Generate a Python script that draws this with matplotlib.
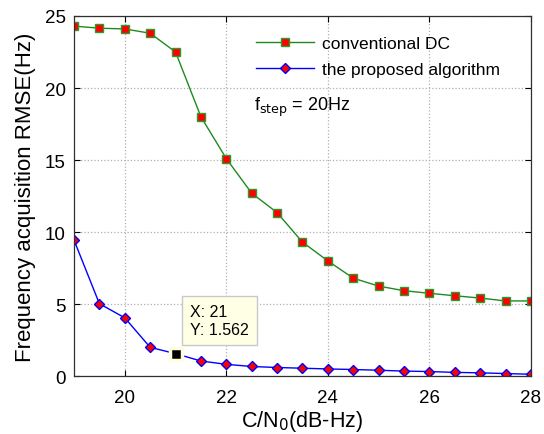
import numpy as np
import matplotlib
matplotlib.use('Agg')
from matplotlib import pyplot as plt

plt.rcParams['font.family'] = ['Liberation Sans', 'DejaVu Sans']

# C/N0 grid (dB-Hz)
cn0 = [19, 19.5, 20, 20.5, 21, 21.5, 22, 22.5, 23, 23.5,
       24, 24.5, 25, 25.5, 26, 26.5, 27, 27.5, 28]

# RMSE do DC convencional
rmse_dc = [24.3, 24.15, 24.1, 23.8, 22.5, 18.0, 15.1, 12.7, 11.35, 9.3,
           8.0, 6.8, 6.25, 5.93, 5.75, 5.58, 5.42, 5.22, 5.22]

# RMSE do algoritmo proposto
rmse_prop = [9.45, 5.03, 4.05, 2.0, 1.562, 1.05, 0.82, 0.67, 0.6, 0.55,
             0.5, 0.46, 0.41, 0.35, 0.32, 0.26, 0.23, 0.18, 0.13]

# ponto marcado com datatip
tip_x = 21
tip_y = 1.562

fig = plt.figure(figsize=(5.44, 4.35), dpi=100)
ax = fig.add_axes([0.136, 0.133, 0.840, 0.828])

ax.plot(cn0, rmse_dc, color='#1f8a1f', lw=1.0, marker='s', ms=5.5,
        mfc='red', mec='#2e9a2e', mew=1.0, label='conventional DC')
ax.plot(cn0, rmse_prop, color='blue', lw=1.0, marker='D', ms=5,
        mfc='red', mec='blue', mew=1.0, label='the proposed algorithm')

# datatip
ax.plot([tip_x], [tip_y], marker='s', ms=9, mfc='black', mec='#fffde0',
        mew=2.5, ls='none', zorder=5)
ax.annotate(f'X: {tip_x}\nY: {tip_y}', xy=(tip_x, tip_y), xytext=(21.29, 3.85),
            fontsize=11.5, va='center', ha='left', linespacing=1.3,
            bbox=dict(boxstyle='square,pad=0.5', fc='#ffffe6', ec='#c8c8c8', lw=1))

ax.text(0.395, 0.75, r'f$_{\rm step}$ = 20Hz', transform=ax.transAxes,
        fontsize=13, ha='left', va='center')

ax.set_xlim(19, 28)
ax.set_ylim(0, 25)
ax.set_xticks([20, 22, 24, 26, 28])
ax.set_yticks([0, 5, 10, 15, 20, 25])
ax.grid(True, ls=':', color='#b0b0b0', lw=0.9)
ax.tick_params(direction='in', top=True, right=True, labelsize=13.5, length=4)
ax.tick_params(axis='x', pad=9)
ax.tick_params(axis='y', pad=6)
for s in ax.spines.values():
    s.set_linewidth(0.9)
    s.set_color('#303030')

ax.set_xlabel('C/N$_0$(dB-Hz)', fontsize=15.5, labelpad=2)
ax.set_ylabel('Frequency acquisition RMSE(Hz)', fontsize=16, labelpad=6)

ax.legend(loc='upper right', frameon=False, fontsize=12.5, handlelength=3.3,
          borderaxespad=0.75, handletextpad=0.5, labelspacing=0.6,
          bbox_to_anchor=(0.977, 1.0))

fig.savefig('out.png', dpi=100)
